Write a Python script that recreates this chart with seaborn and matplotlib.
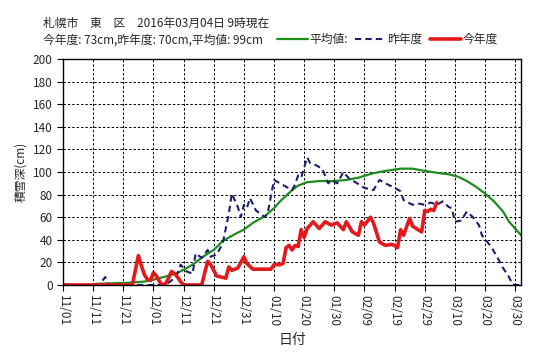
import pandas as pd
import matplotlib
matplotlib.use('Agg')
import matplotlib.pyplot as plt
import seaborn as sns

# データ (11/01 からの経過日数, 積雪深 cm)
start = pd.Timestamp('2015-11-01')

heikin_day = [0, 10, 11, 22, 27, 32, 36, 39, 43, 47, 50, 53, 57, 60, 63, 67, 70, 72, 74, 76, 78, 81,
              85, 90, 94, 98, 103, 107, 112, 116, 120, 125, 128, 131, 134, 137, 140, 143, 146, 148, 152]
heikin_val = [0, 0, 1, 2, 3, 6, 9, 12, 18, 26, 31, 39, 45, 49, 55, 61, 68, 74, 79, 84, 88, 91,
              92, 92, 93, 95, 99, 101, 103, 103, 101, 99, 98, 96, 92, 87, 81, 74, 65, 56, 44]

sakunen_day = [0, 12, 14, 15, 34, 36, 38, 39, 41, 43, 44, 46, 48, 49, 51, 53, 55, 56, 58, 59, 60, 61,
               62, 64, 66, 67, 68, 70, 72, 74, 76, 77, 78, 79, 81, 82, 84, 86, 88, 89, 91, 93, 95,
               97, 100, 103, 105, 107, 110, 112, 113, 116, 118, 120, 122, 124, 126, 128, 129, 130,
               132, 134, 136, 138, 139, 142, 144, 146, 148, 149, 150, 152]
sakunen_val = [0, 0, 7, 0, 0, 4, 10, 18, 12, 10, 28, 24, 31, 25, 27, 37, 63, 81, 69, 60, 71, 68,
               77, 66, 62, 60, 65, 93, 90, 87, 84, 89, 97, 95, 113, 108, 106, 103, 90, 93, 90, 100, 94,
               91, 86, 84, 93, 90, 86, 83, 75, 71, 72, 71, 73, 71, 74, 69, 68, 56,
               57, 65, 60, 53, 44, 34, 25, 15, 7, 1, 0, 0]

konnen_day = [0, 23, 25, 26, 27, 28, 29, 30, 31, 32, 33, 34, 35, 36, 37, 38, 39, 40, 46, 48, 49, 51,
              54, 55, 56, 58, 60, 61, 63, 69, 70, 72, 73, 74, 75, 76, 77, 78, 79, 80, 81, 83, 85,
              87, 89, 91, 93, 94, 96, 98, 99, 100, 102, 103, 105, 107, 109, 110, 111, 112, 113, 115,
              116, 119, 120, 121, 122, 123, 124]
konnen_val = [0, 0, 26, 17, 9, 5, 4, 11, 8, 3, 0, 1, 6, 12, 10, 7, 3, 0, 0, 21, 18, 8,
              6, 16, 13, 15, 25, 19, 14, 14, 18, 18, 19, 33, 35, 31, 35, 34, 49, 42, 50, 56, 50,
              56, 53, 55, 49, 56, 47, 44, 56, 53, 60, 55, 38, 35, 36, 35, 33, 49, 44, 59,
              52, 47, 66, 65, 67, 66, 73]

tick_days = list(range(0, 151, 10))


def to_df(days, vals):
    return pd.DataFrame({'日付': start + pd.to_timedelta(days, unit='D'), '積雪深': vals})


sns.set_style('white')
plt.rcParams['font.family'] = ['Noto Sans CJK JP', 'DejaVu Sans']

fig = plt.figure(figsize=(5.48, 3.54), dpi=100)
ax = fig.add_axes([0.115, 0.195, 0.836, 0.638])

sns.lineplot(data=to_df(heikin_day, heikin_val), x='日付', y='積雪深', ax=ax,
             color='#1e8c1e', linewidth=1.6, label='平均値:')
sns.lineplot(data=to_df(sakunen_day, sakunen_val), x='日付', y='積雪深', ax=ax,
             color='#1a1f6e', linewidth=1.5, dashes=(3, 2), label='昨年度')
sns.lineplot(data=to_df(konnen_day, konnen_val), x='日付', y='積雪深', ax=ax,
             color='#e3191c', linewidth=2.6, label='今年度')

# 軸の設定
ax.set_xlim(start, start + pd.Timedelta(days=152))
ax.set_ylim(0, 200)
ax.set_yticks(range(0, 201, 20))
ticks = [start + pd.Timedelta(days=d) for d in tick_days]
ax.set_xticks(ticks)
ax.set_xticklabels([t.strftime('%m/%d') for t in ticks], rotation=-90, fontsize=8.5)
ax.tick_params(axis='y', labelsize=8.5)
ax.tick_params(direction='out', length=4, width=0.8, color='black', bottom=True, left=True)

ax.grid(True, color='black', linestyle=(0, (2.5, 2)), linewidth=0.7)
for s in ax.spines.values():
    s.set_color('black')
    s.set_linewidth(1)

ax.set_xlabel('日付', fontsize=10, labelpad=5)
ax.set_ylabel('積雪深(cm)', fontsize=8.5, labelpad=4)

# タイトル
fig.text(0.078, 0.935, '札幌市　東　区　2016年03月04日 9時現在', fontsize=8.5, va='center')
fig.text(0.078, 0.888, '今年度: 73cm,昨年度: 70cm,平均値: 99cm', fontsize=8.5, va='center')

ax.legend(ncol=3, frameon=False, loc='center right', bbox_to_anchor=(0.908, 0.888),
          bbox_transform=fig.transFigure, fontsize=8.5, handlelength=2.6,
          handletextpad=0.15, columnspacing=0.6, borderaxespad=0, borderpad=0)

plt.savefig('out.png', dpi=100)
